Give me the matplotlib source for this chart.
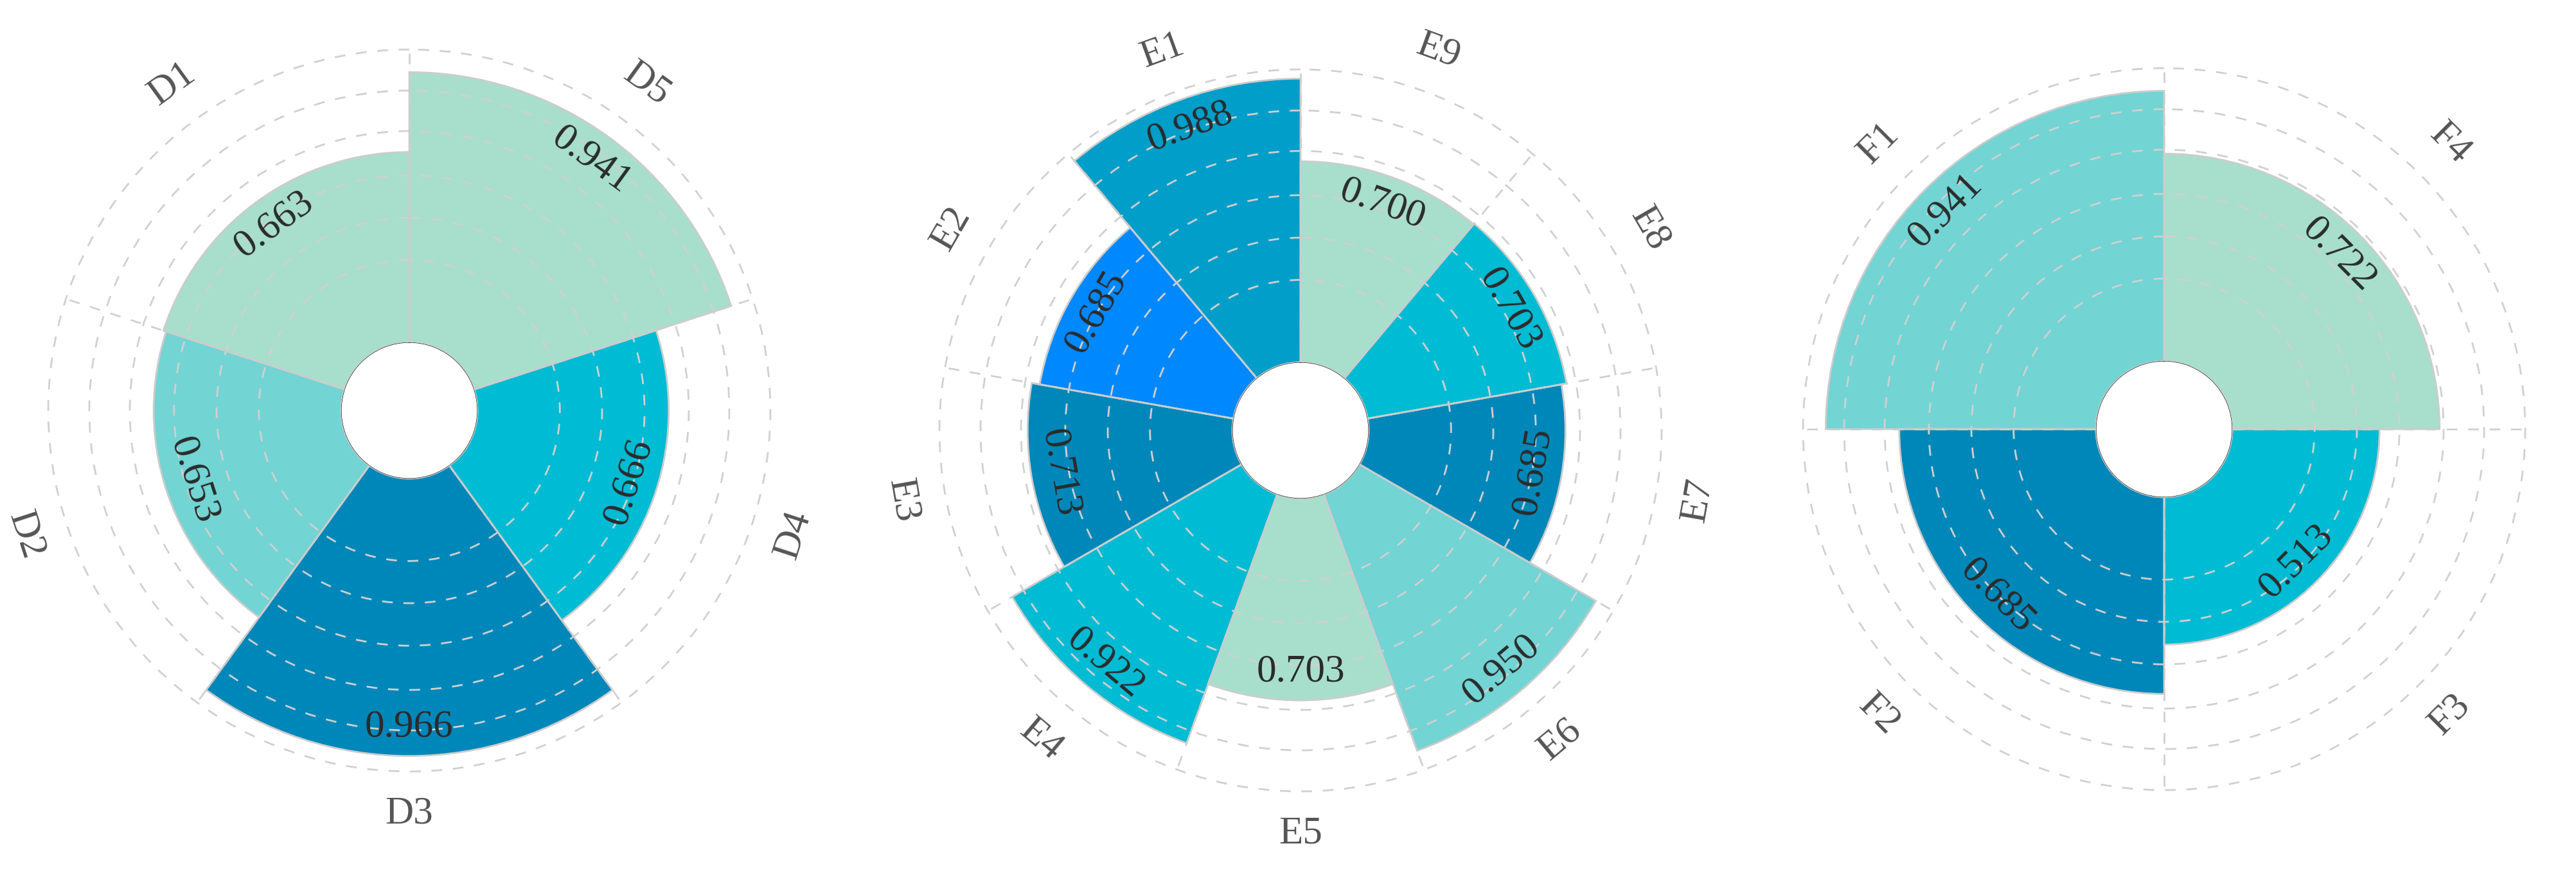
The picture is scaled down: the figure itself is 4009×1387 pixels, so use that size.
import matplotlib
matplotlib.use("Agg")
import matplotlib.pyplot as plt
import numpy as np

# ---------------- data ----------------
d_labels = ["D1", "D2", "D3", "D4", "D5"]
d_values = [0.663, 0.653, 0.966, 0.666, 0.941]

e_labels = ["E1", "E2", "E3", "E4", "E5", "E6", "E7", "E8", "E9"]
e_values = [0.988, 0.685, 0.713, 0.922, 0.703, 0.950, 0.685, 0.703, 0.700]

f_labels = ["F1", "F2", "F3", "F4"]
f_values = [0.941, 0.685, 0.513, 0.722]

# ---------------- colours ----------------
MINT = "#a7dfcc"
TEAL = "#73d4d4"
CYAN = "#00bbd4"
DARK = "#0087b9"
MID = "#009ec8"
BRIGHT = "#0088ff"

d_colors = [MINT, TEAL, DARK, CYAN, MINT]
e_colors = [MID, BRIGHT, DARK, CYAN, MINT, TEAL, DARK, CYAN, MINT]
f_colors = [TEAL, DARK, CYAN, MINT]

# ---------------- geometry / style ----------------
W, H = 4009, 1387
R0_PX = 106          # hole radius in px
K = 447              # px per value unit
VMAX = 1.05
GRID_R = [0.287, 0.434, 0.582, 0.736, 0.877, 1.02]
CAT_R = 1.168
LABEL_INSET = 0.10
FONT = "Liberation Serif"
FS = 44
GRID_COLOR = "#d0d0d0"
EDGE_COLOR = "#cccccc"

fig = plt.figure(figsize=(W / 100, H / 100), dpi=100)
fig.patch.set_facecolor("white")


def tangential(theta_deg):
    rot = (theta_deg + 180) % 360 - 180
    if rot > 90:
        rot -= 180
    elif rot < -90:
        rot += 180
    return rot


def draw(cx, cy, cats, vals, cols):
    n = len(cats)
    rout = R0_PX + K * VMAX
    ax = fig.add_axes([(cx - rout) / W, (H - cy - rout) / H, 2 * rout / W, 2 * rout / H],
                      projection="polar")
    ax.set_theta_zero_location("N")
    ax.set_theta_direction(1)
    ax.set_ylim(0, VMAX)
    ax.set_rorigin(-R0_PX / K)
    ax.set_facecolor("none")
    width = 2 * np.pi / n
    theta = (np.arange(n) + 0.5) * width
    # filled bars
    ax.bar(theta, vals, width=width, bottom=0, color=cols, edgecolor="none",
           linewidth=0, zorder=1)
    # bar outlines above the dashed grid
    ax.bar(theta, vals, width=width, bottom=0, color="none", edgecolor=EDGE_COLOR,
           linewidth=2, zorder=3)
    ax.set_yticks(GRID_R)
    ax.set_yticklabels([])
    ax.set_xticks([])
    ax.yaxis.grid(True, color=GRID_COLOR, linestyle=(0, (6, 6)), linewidth=2)
    ax.set_axisbelow(False)
    for sp in ax.spines.values():
        sp.set_visible(False)
    ax.tick_params(length=0)
    # spokes at category boundaries
    for b in np.arange(n) * width:
        ax.plot([b, b], [0, GRID_R[-1]], color=GRID_COLOR, linestyle=(0, (6, 6)),
                linewidth=2, zorder=2.5)
    for t, v, c in zip(theta, vals, cats):
        rot = tangential(np.degrees(t))
        ax.text(t, v - LABEL_INSET, f"{v:.3f}", rotation=rot, rotation_mode="anchor",
                ha="center", va="center", fontsize=FS, family=FONT, color="#2b2b2b",
                zorder=5)
        ax.text(t, CAT_R, c, rotation=rot, rotation_mode="anchor", ha="center",
                va="center", fontsize=FS, family=FONT, color="#555555", clip_on=False,
                zorder=5)
    return ax


draw(637, 639, d_labels, d_values, d_colors)
draw(2024, 670, e_labels, e_values, e_colors)
draw(3368, 668, f_labels, f_values, f_colors)

fig.savefig("out.png", dpi=100, facecolor="white")
